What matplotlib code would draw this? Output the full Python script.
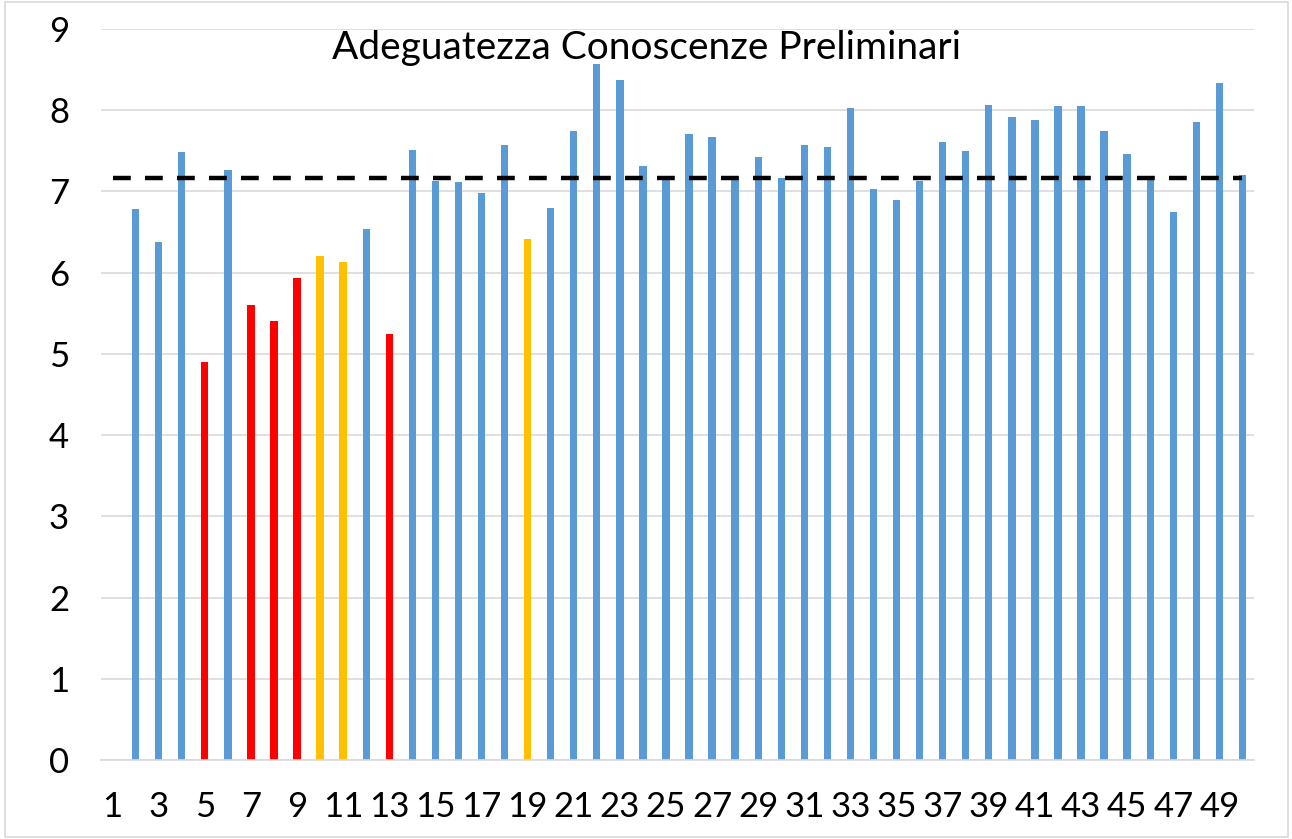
import numpy as np
import matplotlib
matplotlib.use('Agg')
import matplotlib.pyplot as plt

# --- dati ---
corsi = list(range(1, 51))
valori = [np.nan, 6.78, 6.38, 7.49, 4.90, 7.26, 5.60, 5.41, 5.93, 6.21,
          6.13, 6.54, 5.24, 7.51, 7.13, 7.12, 6.98, 7.57, 6.42, 6.80,
          7.74, 8.57, 8.37, 7.31, 7.16, 7.71, 7.67, 7.18, 7.43, 7.17,
          7.57, 7.55, 8.03, 7.03, 6.89, 7.13, 7.61, 7.50, 8.06, 7.92,
          7.88, 8.05, 8.05, 7.74, 7.46, 7.19, 6.75, 7.85, 8.34, 7.20]
rossi = [5, 7, 8, 9, 13]
gialli = [10, 11, 19]
media = 7.17
etichette_x = list(range(1, 50, 2))
titolo = 'Adeguatezza Conoscenze Preliminari'

# --- colori ---
colori = []
for c in corsi:
    if c in rossi:
        colori.append('#FF0000')
    elif c in gialli:
        colori.append('#FFC000')
    else:
        colori.append('#5B9BD5')

plt.rcParams['font.family'] = ['Lato', 'DejaVu Sans']

fig = plt.figure(figsize=(12.92, 8.39), dpi=100)
ax = fig.add_axes([101/1292, 1-760/839, (1254-101)/1292, (760-29)/839])

ax.bar(corsi, valori, width=0.32, color=colori, zorder=2)

# linea della media
ax.plot([corsi[0], corsi[-1]], [media, media], color='black', lw=3.2,
        dashes=(4.0, 3.2), zorder=3)

ax.set_xlim(0.5, 50.5)
ax.set_ylim(0, 9)
ax.set_yticks(range(0, 10))
ax.set_xticks(etichette_x)
ax.set_xticklabels([str(e) for e in etichette_x])
ax.grid(axis='y', color='#d9d9d9', lw=1.2, zorder=0)
ax.tick_params(axis='both', length=0, labelsize=25)
ax.tick_params(axis='y', pad=23)
ax.tick_params(axis='x', pad=22)
for s in ['left', 'right', 'top']:
    ax.spines[s].set_visible(False)
ax.spines['bottom'].set_color('#d9d9d9')
ax.spines['bottom'].set_linewidth(1.2)

fig.text(0.5, 1-48/839, titolo, ha='center', va='center', fontsize=28)

# bordo del grafico
fig.patches.append(plt.Rectangle((0.004, 0.002), 0.993, 0.996, fill=False,
                                 edgecolor='#d9d9d9', lw=1.2,
                                 transform=fig.transFigure, figure=fig))

fig.savefig('out.png', dpi=100)
